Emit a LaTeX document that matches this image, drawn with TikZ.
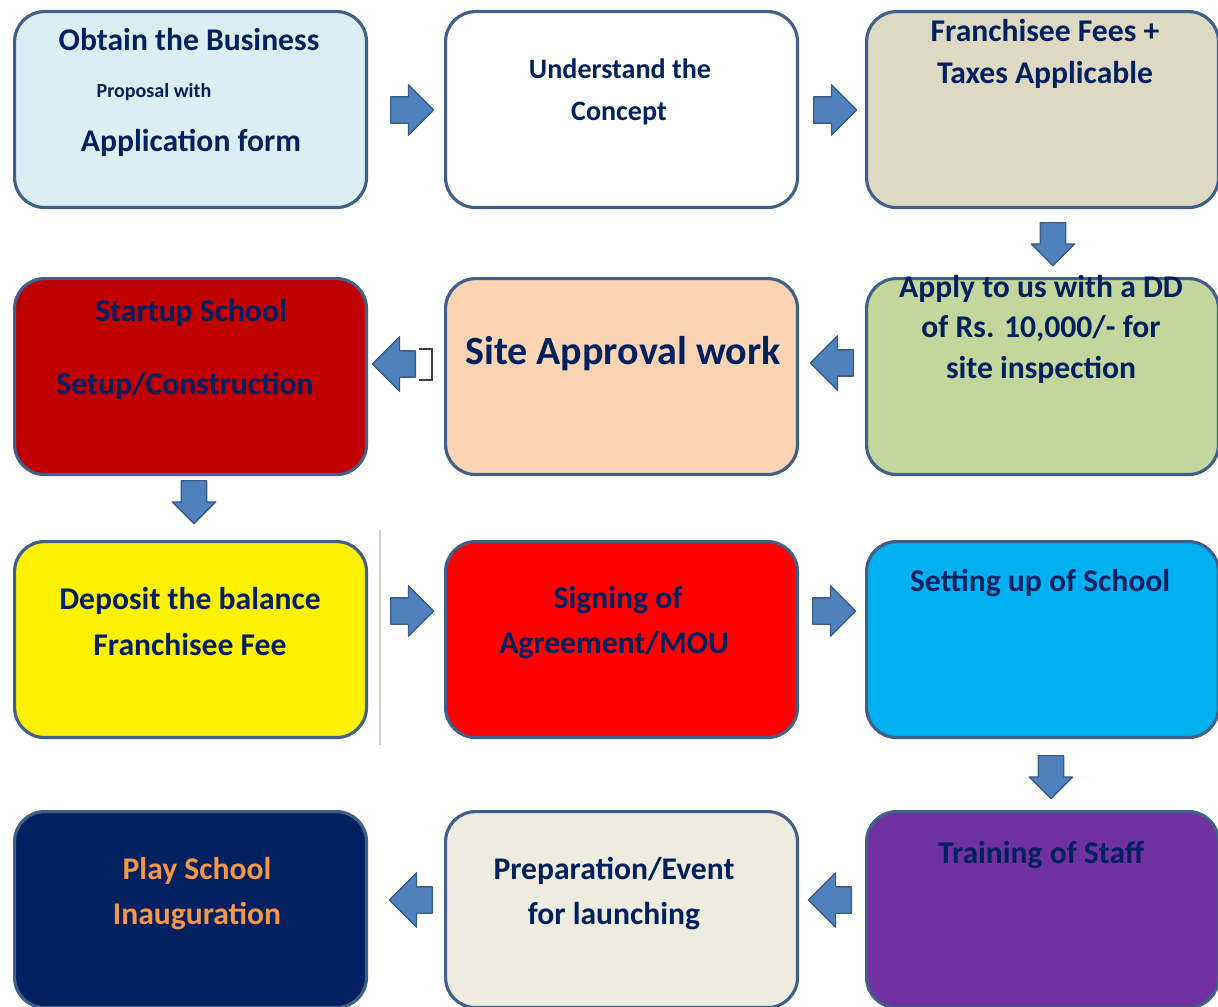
\documentclass[tikz,border=0pt]{standalone}
\usepackage{fontspec}
\setmainfont{Carlito}
\usetikzlibrary{shapes.arrows}
\definecolor{txt}{HTML}{002060}
\definecolor{orng}{HTML}{F79646}
\definecolor{bordc}{HTML}{40608A}
\definecolor{arrf}{HTML}{4F81BD}
\definecolor{arrd}{HTML}{385D8A}
\definecolor{fA}{HTML}{DBEEF4}
\definecolor{fC}{HTML}{DDD9C3}
\definecolor{fD}{HTML}{C3D69B}
\definecolor{fE}{HTML}{FBD4B4}
\definecolor{fF}{HTML}{C00000}
\definecolor{fH}{HTML}{FF0000}
\definecolor{fI}{HTML}{00B0F0}
\definecolor{fJ}{HTML}{7030A0}
\definecolor{fK}{HTML}{EEECE1}
\definecolor{fL}{HTML}{002060}
\begin{document}
\begin{tikzpicture}[x=0.02cm,y=-0.02cm,
 box/.style={draw=bordc, line width=1.8pt, rounded corners=0.6cm, minimum width=7.04cm, minimum height=3.92cm, inner sep=0pt, anchor=north west},
 lbl/.style={text=txt, font=\bfseries\fontsize{18}{21}\selectfont, inner sep=0pt, anchor=center},
 mid/.style={lbl, font=\bfseries\fontsize{16}{19}\selectfont},
 small/.style={lbl, font=\bfseries\fontsize{11.4}{13}\selectfont},
 big/.style={lbl, font=\bfseries\fontsize{22.8}{26}\selectfont},
 barr/.style={single arrow, draw=arrd, fill=arrf, line width=0.8pt, line join=round, minimum height=0.86cm, anchor=tail},
 harr/.style={barr, minimum width=0.98cm, single arrow head extend=0.24cm, inner xsep=0pt, inner ysep=0.25cm},
 larr/.style={barr, shape border rotate=180, minimum width=1.06cm, single arrow head extend=0.28cm, inner xsep=0pt, inner ysep=0.25cm},
 varr/.style={barr, shape border rotate=270, minimum width=0.84cm, single arrow head extend=0.18cm, inner ysep=0pt, inner xsep=0.24cm}
]
\useasboundingbox (0,0) rectangle (1218,1007);
% boxes
\node[box, fill=fA] (b1) at (13,10) {};
\node[box, fill=white] (b2) at (444,10) {};
\node[box, fill=fC] (b3) at (865,10) {};
\node[box, fill=fD] (b4) at (865,277) {};
\node[box, fill=fE] (b5) at (444,277) {};
\node[box, fill=fF] (b6) at (13,277) {};
\node[box, fill=yellow] (b7) at (13,540) {};
\node[box, fill=fH] (b8) at (444,540) {};
\node[box, fill=fI] (b9) at (865,540) {};
\node[box, fill=fJ] (b10) at (865,810) {};
\node[box, fill=fK] (b11) at (444,810) {};
\node[box, fill=fL] (b12) at (13,810) {};
% texts
\node[lbl] (t1a) at (189,40) {Obtain the Business};
\node[small] (t1b) at (154,92) {Proposal with};
\node[lbl] (t1c) at (191,143) {Application form};
\node[mid] (t2a) at (620,69) {Understand the};
\node[mid] (t2b) at (619,113) {Concept};
\node[lbl] (t3a) at (1045,31) {Franchisee Fees +};
\node[lbl] (t3b) at (1045,75) {Taxes Applicable};
\node[lbl] (t4a) at (1041,289) {Apply to us with a DD};
\node[lbl] (t4b) at (1041,329) {of Rs. 10,000/- for};
\node[lbl] (t4c) at (1041,370) {site inspection};
\node[big] (t5) at (623,354) {Site Approval work};
\node[lbl] (t6a) at (191,313) {Startup School};
\node[lbl] (t6b) at (185,386) {Setup/Construction};
\node[lbl] (t7a) at (190,601) {Deposit the balance};
\node[lbl] (t7b) at (190,645) {Franchisee Fee};
\node[lbl] (t8a) at (618,600) {Signing of};
\node[lbl] (t8b) at (614,645) {Agreement/MOU};
\node[lbl] (t9) at (1040,583) {Setting up of School};
\node[lbl] (t10) at (1041,855) {Training of Staff};
\node[lbl] (t11a) at (614,871) {Preparation/Event};
\node[lbl] (t11b) at (614,916) {for launching};
\node[lbl, text=orng] (t12a) at (197,871) {Play School};
\node[lbl, text=orng] (t12b) at (197,916) {Inauguration};
% block arrows (placed by their tails)
\node[harr] (r1) at (390,110) {};
\node[harr] (r2) at (813,110) {};
\node[varr] (d1) at (1053,222) {};
\node[larr] (l1) at (854,363) {};
\node[larr] (l2) at (416,364) {};
\node[varr] (d2) at (194,480) {};
\node[harr] (r3) at (390,611) {};
\node[harr] (r4) at (812,611) {};
\node[varr] (d3) at (1051,755) {};
\node[larr] (l3) at (852,900) {};
\node[larr] (l4) at (433,900) {};
% small bracket artefact next to arrow l2
\coordinate (k1) at (419,349);
\coordinate (k2) at (432,349);
\coordinate (k3) at (432,380);
\coordinate (k4) at (419,380);
\draw[line width=1.2pt, draw=black!75] (k1) -- (k2) -- (k3) -- (k4);
% thin grey rule
\coordinate (g1) at (380,530);
\coordinate (g2) at (380,745);
\draw[line width=1.5pt, draw=black!18] (g1) -- (g2);
\end{tikzpicture}
\end{document}
